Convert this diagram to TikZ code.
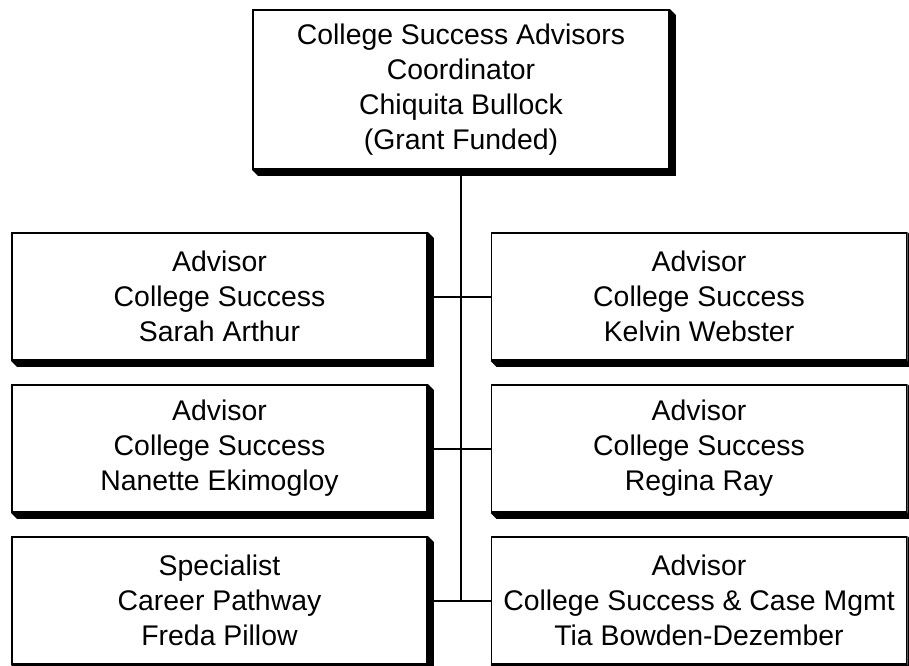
\documentclass[tikz,border=0pt]{standalone}
\usepackage{fontspec}
\setmainfont{Liberation Sans}
\tikzset{
  post/.style={draw, line width=1.8pt, fill=white, align=center, inner sep=0pt,
    minimum width=415pt, minimum height=127pt, font=\fontsize{28.4}{35}\selectfont},
  link/.style={line width=2pt}
}
\begin{document}
\begin{tikzpicture}[x=1pt,y=-1pt]
	\useasboundingbox (0,0) rectangle (909,665);

            \node[post, minimum width=416pt, minimum height=159pt] (coord) at (461,89.5)
              {College Success Advisors\\Coordinator\\Chiquita Bullock\\(Grant Funded)};

            \node[post] (arthur)  at (219.5,296.5) {Advisor\\College Success\\Sarah Arthur};
            \node[post] (webster) at (699,296.5)   {Advisor\\College Success\\Kelvin Webster};
            \node[post] (ekim)    at (219.5,448.5) {Advisor\\College Success\\Nanette Ekimogloy};
            \node[post] (ray)     at (699,448.5)   {Advisor\\College Success\\Regina Ray};
            \node[post] (pillow)  at (219.5,600.5) {Specialist\\Career Pathway\\Freda Pillow};
            \node[post] (bowden)  at (699,600.5)   {Advisor\\College Success \& Case Mgmt\\Tia Bowden-Dezember};

            % drop shadows
            \foreach \b in {coord,arthur,webster,ekim,ray,pillow,bowden}{
              \fill (\b.north east) -- ([shift={(6,6)}]\b.north east) -- ([shift={(6,6)}]\b.south east)
                -- ([shift={(6,6)}]\b.south west) -- (\b.south west) -- (\b.south east) -- cycle;
            }

            % trunk and branches
            \coordinate (trunkend) at (coord.south |- pillow.east);
            \draw[link] (coord.south) -- (trunkend);
            \draw[link] (arthur.east) -- (webster.west);
            \draw[link] (ekim.east) -- (ray.west);
            \draw[link] (pillow.east) -- (bowden.west);
        \end{tikzpicture}
\end{document}
